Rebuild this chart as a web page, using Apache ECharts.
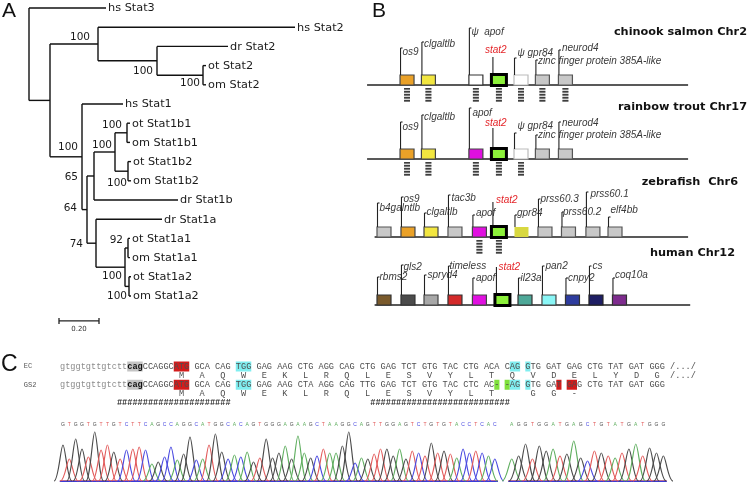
<!DOCTYPE html>
<html><head><meta charset="utf-8">
<script src="https://cdn.jsdelivr.net/npm/echarts/dist/echarts.min.js"></script>
<style>html,body{margin:0;padding:0;background:#fff}#c{width:749px;height:486px}</style>
</head><body><div id="c"></div>
<script>
// ---------------- DATA ----------------
// Panel A: phylogenetic tree (node, parent, branch length, bootstrap, leaf label)
const treeNodes     = ['root','hsStat3','A','B','hsStat2','C','drStat2','D','otStat2','omStat2','E','hsStat1','F','G','H','I','otStat1b1','omStat1b1','J','otStat1b2','omStat1b2','drStat1b','K','drStat1a','L','M','otStat1a1','omStat1a1','N','otStat1a2','omStat1a2'];
const treeParents   = [null,'root','root','A','B','B','C','C','D','D','A','E','E','F','G','H','I','I','H','J','J','G','F','K','K','L','M','M','L','N','N'];
const branchLengths = [0,0.385,0.105,0.24,0.985,0.295,0.355,0.23,0.015,0.015,0.16,0.205,0.025,0.035,0.105,0.06,0.015,0.015,0.065,0.015,0.015,0.42,0.045,0.33,0.145,0.015,0.01,0.01,0.02,0.01,0.01];
const bootstrapValues = [null,null,null,100,null,100,null,100,null,null,100,null,64,65,100,100,null,null,100,null,null,null,74,null,100,92,null,null,100,null,null];
const leafLabels    = ['','hs Stat3','','','hs Stat2','','dr Stat2','','ot Stat2','om Stat2','','hs Stat1','','','','','ot Stat1b1','om Stat1b1','','ot Stat1b2','om Stat1b2','dr Stat1b','','dr Stat1a','','','ot Stat1a1','om Stat1a1','','ot Stat1a2','om Stat1a2'];
const scaleBarLength = 0.20;

// Panel B: synteny tracks
const trackTitles = ['chinook salmon Chr2','rainbow trout Chr17','zebrafish  Chr6','human Chr12'];
const chinookGenes = ['os9','clgaltlb','\u03c8  apof','stat2','\u03c8 gpr84','zinc finger protein 385A-like','neurod4'];
const chinookPos   = [0.98,1.89,3.91,4.89,5.83,6.74,7.72];
const chinookLinks = [1,1,1,1,1,1,1];
const troutGenes = ['os9','clgaltlb','apof','stat2','\u03c8 gpr84','zinc finger protein 385A-like','neurod4'];
const troutPos   = [0.98,1.89,3.91,4.89,5.83,6.74,7.72];
const troutLinks = [1,1,1,1,1,0,0];
const zebraGenes = ['b4galntlb','os9','clgaltlb','tac3b','apof','stat2','gpr84','prss60.3','prss60.2','prss60.1','elf4bb'];
const zebraPos   = [0,1.02,2,3.02,4.06,4.89,5.85,6.85,7.85,8.89,9.83];
const zebraLinks = [0,0,0,0,1,1,0,0,0,0,0];
const humanGenes = ['rbms2','gls2','spryd4','timeless','apof','stat2','il23a','pan2','cnpy2','cs','coq10a'];
const humanPos   = [0,1.02,2,3.02,4.06,5.04,6,7.02,8.02,9.02,10.02];
const humanLinks = [0,0,0,0,0,0,0,0,0,0,0];

// Panel C: alignment
const ecSeq  = 'gtggtgttgtcttcagCCAGGCATG GCA CAG TGG GAG AAG CTG AGG CAG CTG GAG TCT GTG TAC CTG ACA CAG GTG GAT GAG CTG TAT GAT GGG /.../';
const ecAa   = ['M','A','Q','W','E','K','L','R','Q','L','E','S','V','Y','L','T','Q','V','D','E','L','Y','D','G'];
const gs2Seq = 'gtggtgttgtcttcagCCAGGCATG GCA CAG TGG GAG AAG CTA AGG CAG TTG GAG TCT GTG TAC CTC AC- -AG GTG GAT GAG CTG TAT GAT GGG';
const gs2Aa  = ['M','A','Q','W','E','K','L','R','Q','L','E','S','V','Y','L','T','','G','G','-'];
const rowNames = ['EC','GS2'];
// highlights: [row, firstCol, lastCol, kind]
const highlights = [[0,13,15,'splice'],[0,22,24,'start'],[0,34,36,'trp'],[0,87,88,'trp'],[0,90,90,'trp'],
                    [2,13,15,'splice'],[2,22,24,'start'],[2,34,36,'trp'],[2,84,84,'gap'],[2,86,86,'gap'],[2,87,88,'trp'],[2,90,90,'trp'],[2,96,96,'start'],[2,98,99,'start']];
const hashRanges = [[11,32],[60,86]];
// chromatogram
const traceBases1 = 'GTGGTGTTGTCTTCAGCCAGGCATGGCACAGTGGGAGAAGCTAAGGCAGTTGGAGTCTGTGTACCTCAC';
const peakHeights1 = [36,22,42,32,24,49,31,36,29,22,31,32,34,31,17,19,24,34,21,27,44,21,22,36,47,29,22,26,24,29,19,23,
                      42,23,28,35,22,45,28,23,25,32,28,28,35,49,18,23,22,27,32,32,25,32,22,30,28,25,38,28,30,27,23,32,
                      28,30,28,25,22];
const traceBases2 = 'AGGTGGATGAGCTGTATGATGGG';
const peakHeights2 = [22,25,37,22,35,30,32,25,27,40,23,20,30,28,25,23,28,32,37,25,33,28,25];

// ---------------- LAYOUT / STYLE ----------------
const trackBaselines = [85,159,237,305];
const trackExtent = [[-0.72,12.94],[-0.72,12.94],[-0.4,12.94],[-0.4,13.03]];
const G_GRAY='#c8c8c8', ORANGE='#eaa128', YELLOW='#f2e640', MAG='#e010e0';
const trackStyle = [
  {fill:[ORANGE,YELLOW,'#ffffff',null,'#ffffff',G_GRAY,G_GRAY], stroke:['#444','#444','#333',null,'#bbbbbb','#555','#555'],
   lineH:[37,43,57,28,27,25,35], labelH:[33,41,53,35,32,24,37], labelDx:[2,2,2,-8,3,2,3]},
  {fill:[ORANGE,YELLOW,MAG,null,'#ffffff',G_GRAY,G_GRAY], stroke:['#444','#444','#444',null,'#bbbbbb','#555','#555'],
   lineH:[37,44,51,31,26,24,37], labelH:[32,42,46,36,33,24,36], labelDx:[2,2,3,-8,3,2,3]},
  {fill:[G_GRAY,ORANGE,YELLOW,G_GRAY,MAG,null,'#d8d840',G_GRAY,G_GRAY,G_GRAY,G_GRAY], stroke:['#555','#444','#444','#555','#444',null,null,'#555','#555','#555','#555'],
   lineH:[34,40,24,42,22,35,22,38,25,45,20], labelH:[29,38,25,39,24,37,24,38,25,43,27], labelDx:[2,2,2,3,3,3,2,2,1,4,2]},
  {fill:['#7a5a2c','#4c4c4c','#a8a8a8','#d42a2a',MAG,null,'#4ea898','#8af6f6','#2e3c9e','#1e1e64','#7e2c8e'], stroke:['#333','#333','#444','#333','#444',null,'#333','#444','#333','#222','#333'],
   lineH:[28,40,30,39,27,38,27,39,27,39,27], labelH:[28,38,30,39,27,38,27,39,27,39,30], labelDx:[2,2,3,1,3,2,2,3,2,3,2]}
];
const tracks = [
  {genes:chinookGenes,pos:chinookPos,links:chinookLinks},
  {genes:troutGenes,pos:troutPos,links:troutLinks},
  {genes:zebraGenes,pos:zebraPos,links:zebraLinks},
  {genes:humanGenes,pos:humanPos,links:humanLinks}
];
const bootOffset = {B:[-8,-7],C:[-4,10],D:[-3,8],E:[-4,-10],I:[-5,-8],H:[-3,-7],J:[-1,12],G:[-16,1],F:[-10,-1],K:[-13,1],M:[-5,-8],L:[-3,9],N:[-2,10]};
const hlColor = {splice:'#c4c4c4',start:'#d21c1c',trp:'#80eef0',gap:'#80e03c'};
const baseColor = {G:'#4a4a4a',T:'#e25a5a',A:'#5fae5f',C:'#4a4ae0'};

// ---------------- TREE GEOMETRY ----------------
const children = {}; treeNodes.forEach(n => children[n] = []);
treeNodes.forEach((n,i) => { if (treeParents[i]) children[treeParents[i]].push(n); });
const nodeX = {}, nodeY = {};
function setX(n, x){ nodeX[n] = x; children[n].forEach(c => setX(c, x + branchLengths[treeNodes.indexOf(c)])); }
setX('root', 0);
let leafCount = 0;
function setY(n){ const ch = children[n]; if (!ch.length) { nodeY[n] = leafCount++; return; } ch.forEach(setY); nodeY[n] = (nodeY[ch[0]] + nodeY[ch[ch.length-1]]) / 2; }
setY('root');
const treeSegs = [];
treeNodes.forEach((n,i) => {
  if (treeParents[i]) treeSegs.push([nodeX[treeParents[i]], nodeY[n], nodeX[n], nodeY[n]]);
  const ch = children[n];
  if (ch.length) treeSegs.push([nodeX[n], nodeY[ch[0]], nodeX[n], nodeY[ch[ch.length-1]]]);
});
const leafData = [], bootData = [];
treeNodes.forEach((n,i) => {
  if (leafLabels[i]) leafData.push([nodeX[n], nodeY[n], i]);
  if (bootstrapValues[i] != null) bootData.push([nodeX[n], nodeY[n], i]);
});

// ---------------- HELPERS ----------------
function T(x, y, text, o){ return {type:'text', x:x, y:y, style:Object.assign({text:text, fill:'#1a1a1a', fontSize:11.3, fontFamily:'DejaVu Sans', align:'left', verticalAlign:'middle'}, o||{})}; }
function L(x1,y1,x2,y2,c,w){ return {type:'line', shape:{x1:x1,y1:y1,x2:x2,y2:y2}, style:{stroke:c||'#111', lineWidth:w||1.3}}; }

// ---------------- GRIDS / AXES ----------------
const grids = [{left:29, top:8, width:300, height:288}];
const xAxes = [{type:'value', gridIndex:0, min:0, max:1.5, show:false}];
const yAxes = [{type:'value', gridIndex:0, min:0, max:15, inverse:true, show:false}];
trackBaselines.forEach((b,t) => {
  grids.push({left:360.5, top:b-60, width:352.5, height:80});
  xAxes.push({type:'value', gridIndex:t+1, min:-1, max:14, show:false});
  yAxes.push({type:'value', gridIndex:t+1, min:-20, max:60, show:false});
});
grids.push({left:60, top:366.5, width:646.25, height:36.5});            // 5 alignment
xAxes.push({type:'value', gridIndex:5, min:0, max:125, show:false});
yAxes.push({type:'value', gridIndex:5, min:0, max:4, inverse:true, show:false});
grids.push({left:59.8, top:421, width:438.2, height:60});               // 6 trace 1
xAxes.push({type:'value', gridIndex:6, min:-0.5, max:68.5, show:false});
yAxes.push({type:'value', gridIndex:6, min:0, max:60, show:false});
grids.push({left:508.3, top:421, width:158.5, height:60});              // 7 trace 2
xAxes.push({type:'value', gridIndex:7, min:68.5, max:91.5, show:false});
yAxes.push({type:'value', gridIndex:7, min:0, max:60, show:false});

const series = [];
function custom(ax, data, fn){ series.push({type:'custom', xAxisIndex:ax, yAxisIndex:ax, data:data, renderItem:fn, silent:true, animation:false, clip:false}); }

// ---- Panel A ----
custom(0, treeSegs, (p, api) => {
  const a = api.coord([api.value(0), api.value(1)]), b = api.coord([api.value(2), api.value(3)]);
  return L(a[0], a[1], b[0], b[1], '#111', 1.4);
});
custom(0, leafData, (p, api) => {
  const a = api.coord([api.value(0), api.value(1)]);
  return T(a[0] + 2, a[1] + 0.5, leafLabels[api.value(2)]);
});
custom(0, bootData, (p, api) => {
  const a = api.coord([api.value(0), api.value(1)]);
  const n = treeNodes[api.value(2)], o = bootOffset[n] || [-3, -6];
  return T(a[0] + o[0], a[1] + o[1], String(bootstrapValues[api.value(2)]), {align:'right', fontSize:10.5});
});
custom(0, [[0.15, 16.3]], (p, api) => {
  const a = api.coord([api.value(0), api.value(1)]), b = api.coord([api.value(0) + scaleBarLength, api.value(1)]);
  return {type:'group', children:[
    L(a[0], a[1], b[0], b[1], '#222', 1.3), L(a[0], a[1]-3, a[0], a[1]+3, '#222', 1.3), L(b[0], b[1]-3, b[0], b[1]+3, '#222', 1.3),
    T((a[0]+b[0])/2, a[1] + 8, scaleBarLength.toFixed(2), {align:'center', fontSize:7, fill:'#333'})
  ]};
});

// ---- Panel B ----
tracks.forEach((tr, t) => {
  const st = trackStyle[t], ax = t + 1;
  custom(ax, [[trackExtent[t][0], 0, trackExtent[t][1]]], (p, api) => {
    const a = api.coord([api.value(0), 0]), b = api.coord([api.value(2), 0]);
    return L(a[0], a[1], b[0], b[1], '#222', 1.3);
  });
  custom(ax, tr.pos.map((x, i) => [x, 0, i]), (p, api) => {
    const i = api.value(2), c = api.coord([api.value(0), 0]);
    const cx = c[0], by = c[1], isStat = tr.genes[i] === 'stat2';
    const ch = [];
    if (tr.links[i]) {
      ch.push({type:'rect', shape:{x:cx-3, y:by+3, width:6, height:14}, style:{fill:'#d6d6d6'}});
      for (let k = 0; k < 5; k++) ch.push({type:'rect', shape:{x:cx-3, y:by+3+k*3, width:6, height:1.6}, style:{fill:'#3e3e3e'}});
    }
    let lx, boxTop;
    if (isStat) {
      ch.push({type:'rect', shape:{x:cx-7.5, y:by-10.5, width:15, height:11}, style:{fill:'#8cf03a', stroke:'#000', lineWidth:3}});
      lx = cx - 6; boxTop = by - 12;
    } else {
      const s = st.stroke[i];
      ch.push({type:'rect', shape:{x:cx-7, y:by-10, width:14, height:10}, style:{fill:st.fill[i], stroke:s || null, lineWidth:s ? 1.2 : 0}});
      lx = cx - 6.5; boxTop = by - 10;
    }
    const top = by - st.lineH[i];
    ch.push(L(lx, boxTop, lx, top, '#222', 1.1));
    if (!isStat) ch.push(L(lx, top, lx + 2, top, '#222', 1.1));
    ch.push(T(lx + st.labelDx[i], by - st.labelH[i], tr.genes[i],
      {fontFamily:'Liberation Sans', fontStyle:'italic', fontSize:10, fill: isStat ? '#e4262a' : '#3a3a3a'}));
    return {type:'group', children:ch};
  });
});

// ---- Panel C: alignment ----
const cells = [];
function addSeq(seq, row){
  for (let k = 0; k < seq.length; k++) {
    const c = seq[k]; if (c === ' ') continue;
    cells.push({col:k, row:row, ch:c, color: (c >= 'a' && c <= 'z') ? '#8c8c8c' : '#4e4e4e', bold:false});
  }
}
addSeq(ecSeq, 0); addSeq(gs2Seq, 2);
cells.forEach(c => { if (c.col >= 13 && c.col <= 15) { c.color = '#111'; c.bold = true; } });
ecAa.forEach((a, k) => cells.push({col:23 + 4*k, row:1, ch:a, color:'#4e4e4e'}));
'/.../'.split('').forEach((a, k) => cells.push({col:118 + k, row:1, ch:a, color:'#4e4e4e'}));
gs2Aa.forEach((a, k) => { if (a) cells.push({col:23 + 4*k, row:3, ch:a, color:'#4e4e4e'}); });
hashRanges.forEach(r => { for (let k = r[0]; k <= r[1]; k++) cells.push({col:k, row:4, ch:'#', color:'#2a2a2a', bold:true}); });

custom(5, highlights.map((h, i) => [h[1], h[0], h[2] + 1, i]), (p, api) => {
  const a = api.coord([api.value(0), api.value(1)]), b = api.coord([api.value(2), api.value(1)]);
  return {type:'rect', shape:{x:a[0], y:a[1]-5, width:b[0]-a[0], height:10}, style:{fill:hlColor[highlights[api.value(3)][3]]}};
});
custom(5, cells.map((c, i) => [c.col + 0.5, c.row, i]), (p, api) => {
  const c = cells[api.value(2)], a = api.coord([api.value(0), api.value(1)]);
  return T(a[0], a[1], c.ch, {align:'center', fontFamily:'Liberation Mono', fontSize:8.6, fill:c.color, fontWeight:c.bold ? 'bold' : 'normal'});
});
custom(5, rowNames.map((n, i) => [-7, i*2, i]), (p, api) => {
  const a = api.coord([api.value(0), api.value(1)]);
  return T(a[0], a[1], rowNames[api.value(2)], {fontFamily:'Liberation Mono', fontSize:7, fill:'#555'});
});

// ---- chromatogram ----
function traceSeries(ax, bases, heights, start){
  const data = heights.map((h, i) => [start + i, h, i]);
  custom(ax, [[start - 0.5, 0, start + heights.length - 0.5]], (p, api) => {
    const a = api.coord([api.value(0), 0]), b = api.coord([api.value(2), 0]);
    return {type:'group', children:[L(a[0], a[1], b[0], b[1], '#e25a5a', 1.6), L(a[0], a[1]+0.3, b[0], b[1]+0.3, '#3a3ad8', 1.2)]};
  });
  custom(ax, data, (p, api) => {
    const x = api.value(0), h = api.value(1), col = baseColor[bases[api.value(2)]], w = 1.4;
    const s = api.coord([x - w, 0]), c1 = api.coord([x - 0.5*w, 0]), c2 = api.coord([x - 0.25*w, h]), t = api.coord([x, h]);
    const d1 = api.coord([x + 0.25*w, h]), d2 = api.coord([x + 0.5*w, 0]), e = api.coord([x + w, 0]);
    const sty = {stroke:col, lineWidth:1.15, fill:null};
    return {type:'group', children:[
      {type:'bezierCurve', shape:{x1:s[0], y1:s[1], cpx1:c1[0], cpy1:c1[1], cpx2:c2[0], cpy2:c2[1], x2:t[0], y2:t[1]}, style:sty},
      {type:'bezierCurve', shape:{x1:t[0], y1:t[1], cpx1:d1[0], cpy1:d1[1], cpx2:d2[0], cpy2:d2[1], x2:e[0], y2:e[1]}, style:sty}
    ]};
  });
  custom(ax, data, (p, api) => {
    const a = api.coord([api.value(0), 56]), b = bases[api.value(2)];
    return T(a[0], a[1], b, {align:'center', fontSize:5, fontFamily:'Liberation Sans', fill:baseColor[b]});
  });
}
traceSeries(6, traceBases1, peakHeights1, 0);
traceSeries(7, traceBases2, peakHeights2, traceBases1.length);

// ---------------- TITLES ----------------
const letterStyle = {fontSize:21, fontWeight:'normal', fontFamily:'Liberation Sans', color:'#111'};
const trackTitleStyle = {fontSize:11.3, fontWeight:'bold', fontFamily:'DejaVu Sans', color:'#111'};
const titleRight = [2, 2, 11, 14], titleTop = [27, 102, 177, 248];
const titles = [
  {text:'A', left:2, top:1, padding:0, textStyle:letterStyle},
  {text:'B', left:372, top:1, padding:0, textStyle:letterStyle},
  {text:'C', left:1, top:353, padding:0, textStyle:Object.assign({}, letterStyle, {fontSize:23})}
];
trackTitles.forEach((s, i) => titles.push({text:s, right:titleRight[i], top:titleTop[i], padding:0, textStyle:trackTitleStyle}));

const chart = echarts.init(document.getElementById('c'), null, {renderer:'canvas'});
chart.setOption({
  animation:false, backgroundColor:'#ffffff',
  title:titles, grid:grids, xAxis:xAxes, yAxis:yAxes, series:series
});
</script></body></html>
